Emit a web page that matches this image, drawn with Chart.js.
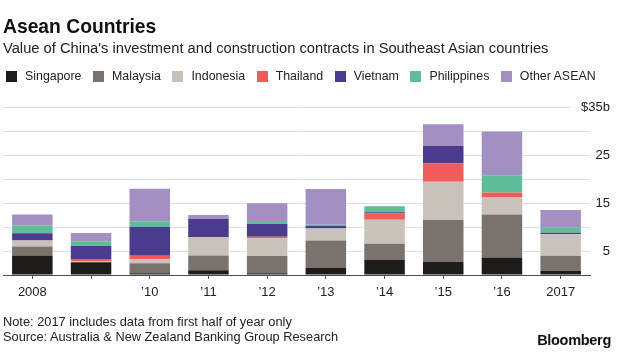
<!DOCTYPE html>
<html>
<head>
<meta charset="utf-8">
<script src="https://cdn.jsdelivr.net/npm/chart.js@4"></script>
<style>
html,body{margin:0;padding:0;background:#fff;}
#wrap{position:relative;width:620px;height:355px;overflow:hidden;font-family:"Liberation Sans",Arial,sans-serif;color:#1b1b1b;}
#c{position:absolute;left:0;top:0;}
.t{position:absolute;white-space:nowrap;}
#title{left:3px;top:17px;font-size:19.3px;line-height:19.3px;font-weight:bold;color:#111;}
#subtitle{left:3px;top:41px;font-size:14.7px;line-height:14.7px;color:#222;}
#legend{position:absolute;left:6px;top:70px;display:flex;align-items:center;font-size:12.4px;line-height:12.4px;color:#222;}
#legend .item{display:flex;align-items:center;margin-right:11.5px;}
#legend .sw{width:11px;height:11px;margin-right:8px;}
#note{left:3px;top:315.8px;font-size:12.8px;line-height:12.8px;color:#222;}
#source{left:3px;top:330.8px;font-size:12.8px;line-height:12.8px;color:#222;}
#brand{right:9px;top:333px;font-size:14.5px;line-height:14.5px;font-weight:bold;color:#111;letter-spacing:-0.3px;}
</style>
</head>
<body>
<div id="wrap">
  <canvas id="c" width="620" height="355"></canvas>
  <div class="t" id="title">Asean Countries</div>
  <div class="t" id="subtitle">Value of China's investment and construction contracts in Southeast Asian countries</div>
  <div id="legend"></div>
  <div class="t" id="note">Note: 2017 includes data from first half of year only</div>
  <div class="t" id="source">Source: Australia &amp; New Zealand Banking Group Research</div>
  <div class="t" id="brand">Bloomberg</div>
</div>
<script>
// ---- data ----
const years = ['2008','2009','2010','2011','2012','2013','2014','2015','2016','2017'];
const xTickLabels = ['2008','','\u201910','\u201911','\u201912','\u201913','\u201914','\u201915','\u201916','2017'];
const seriesNames = ['Singapore','Malaysia','Indonesia','Thailand','Vietnam','Philippines','Other ASEAN'];
const singapore   = [4.05, 2.65, 0.35, 1.0, 0.35, 1.45, 3.1, 2.75, 3.65, 0.85];
const malaysia    = [1.9,  0.0,  2.1,  3.05, 3.6, 5.75, 3.4, 8.7,  8.95, 3.15];
const indonesia   = [1.25, 0.2,  0.85, 3.85, 3.7, 2.5,  5.0, 8.0,  3.55, 4.5];
const thailand    = [0.0,  0.5,  0.7,  0.0,  0.3, 0.0,  1.3, 3.8,  1.05, 0.0];
const vietnam     = [1.5,  2.7,  6.0,  3.8,  2.7, 0.55, 0.25, 3.6, 0.0,  0.3];
const philippines = [1.6,  0.9,  1.2,  0.0,  0.6, 0.2,  1.25, 0.0, 3.6,  1.05];
const otherAsean  = [2.3,  1.8,  6.75, 0.8,  3.7, 7.45, 0.0, 4.55, 9.1,  3.7];
const seriesColors = ['#1e1c1a','#7a736d','#c9c2bb','#f15b5b','#4b3b8f','#5fbe99','#a48fc3'];
const yTickValues = [35, 25, 15, 5];
const yTickLabels = ['$35b', '25', '15', '5'];

const seriesData = [singapore, malaysia, indonesia, thailand, vietnam, philippines, otherAsean];

// ---- legend (HTML, built from series) ----
const legendEl = document.getElementById('legend');
seriesNames.forEach((name, i) => {
  const item = document.createElement('div');
  item.className = 'item';
  const sw = document.createElement('div');
  sw.className = 'sw';
  sw.style.background = seriesColors[i];
  const tx = document.createElement('span');
  tx.textContent = name;
  item.appendChild(sw); item.appendChild(tx);
  legendEl.appendChild(item);
});

Chart.defaults.font.family = '"Liberation Sans", Arial, sans-serif';

new Chart(document.getElementById('c'), {
  type: 'bar',
  data: {
    labels: years,
    datasets: seriesNames.map((name, i) => ({
      label: name,
      data: seriesData[i],
      backgroundColor: seriesColors[i],
      borderWidth: 0,
      categoryPercentage: 1.0,
      barPercentage: 0.69
    }))
  },
  options: {
    responsive: false,
    maintainAspectRatio: false,
    animation: false,
    layout: { padding: { left: 3, right: 0, top: 107, bottom: 55 } },
    plugins: { legend: { display: false }, tooltip: { enabled: false }, title: { display: false } },
    scales: {
      x: {
        stacked: true,
        offset: true,
        grid: { display: true, offset: false, drawOnChartArea: false, drawTicks: true, tickLength: 4, tickColor: '#555', lineWidth: 1 },
        border: { display: true, color: '#4a4a4a', width: 1 },
        ticks: { padding: 6, color: '#222', font: { size: 13 }, maxRotation: 0, autoSkip: false,
                 callback: (v, i) => xTickLabels[i] },
        afterFit: (s) => { s.height = 25; }
      },
      y: {
        stacked: true,
        position: 'right',
        min: 0,
        max: 35,
        grid: { color: '#e0e0e0', lineWidth: 1, drawTicks: false },
        border: { display: false },
        ticks: {
          stepSize: 5,
          mirror: true,
          padding: 20,
          crossAlign: 'near',
          color: '#222',
          font: { size: 13 },
          callback: (v) => { const k = yTickValues.indexOf(v); return k < 0 ? '' : yTickLabels[k]; },
          showLabelBackdrop: (ctx) => !!(ctx.tick && ctx.tick.value === 35),
          backdropColor: '#ffffff',
          backdropPadding: { top: 2, bottom: 2, left: 10, right: 0 }
        },
        afterFit: (s) => { s.width = 30; }
      }
    }
  }
});
</script>
</body>
</html>
